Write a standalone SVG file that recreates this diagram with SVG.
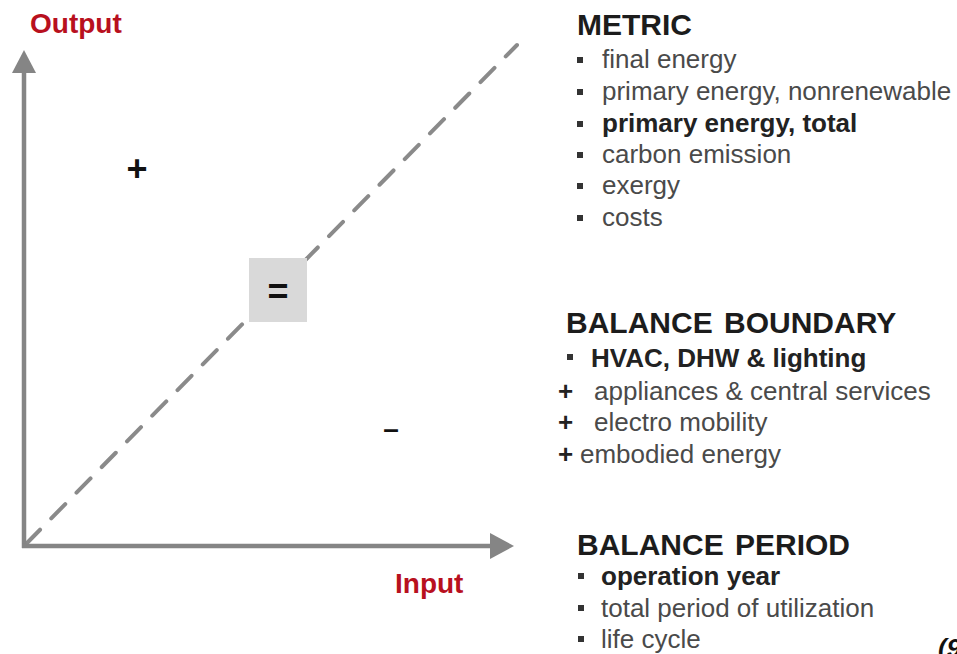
<svg xmlns="http://www.w3.org/2000/svg" width="957" height="654" viewBox="0 0 957 654">
<style>
.ax{stroke:#858585;stroke-width:4.5;fill:none}
.dash{stroke:#8a8a8a;stroke-width:4;stroke-dasharray:20 16;fill:none;stroke-linecap:round}
.red{font-family:"Liberation Sans",Arial,sans-serif;font-weight:bold;font-size:28px;fill:#b8101e}
.hd{font-family:"Liberation Sans",Arial,sans-serif;font-weight:bold;font-size:30px;fill:#1c1c1c;word-spacing:3px}
.it{font-family:"Liberation Sans",Arial,sans-serif;font-size:26px;fill:#4a4a4a}
.itb{font-family:"Liberation Sans",Arial,sans-serif;font-size:26px;font-weight:bold;fill:#222}
.sym{font-family:"Liberation Sans",Arial,sans-serif;font-weight:bold;fill:#111;text-anchor:middle}
.bul{fill:#333}
</style>
<rect width="957" height="654" fill="#ffffff"/>
<g id="connectors">
<line class="dash" x1="26" y1="544" x2="517" y2="45"/>
<line class="ax" x1="24" y1="548" x2="24" y2="70"/>
<polygon points="24,50 12,73 36,73" fill="#858585"/>
<line class="ax" x1="22" y1="546" x2="492" y2="546"/>
<polygon points="514,546 490,533 490,559" fill="#858585"/>
</g>
<g id="axis-labels">
<text class="red" x="30" y="33">Output</text>
<text class="red" x="395" y="593">Input</text>
</g>
<g id="plus"><text class="sym" x="137" y="181" font-size="36">+</text></g>
<g id="minus"><text class="sym" x="391" y="438" font-size="28" font-weight="normal">–</text></g>
<g id="equal">
<rect x="249" y="258" width="58" height="64" fill="#d9d9d9"/>
<text class="sym" x="278" y="304" font-size="36">=</text>
</g>
<g id="metric">
<text class="hd" x="577" y="35" font-size="29">METRIC</text>
<rect class="bul" x="577" y="57" width="6" height="6"/>
<text class="it" x="602" y="68">final energy</text>
<rect class="bul" x="577" y="89" width="6" height="6"/>
<text class="it" x="602" y="100">primary energy, nonrenewable</text>
<rect class="bul" x="577" y="121" width="6" height="6"/>
<text class="itb" x="602" y="132">primary energy, total</text>
<rect class="bul" x="577" y="152" width="6" height="6"/>
<text class="it" x="602" y="163">carbon emission</text>
<rect class="bul" x="577" y="183" width="6" height="6"/>
<text class="it" x="602" y="194">exergy</text>
<rect class="bul" x="577" y="215" width="6" height="6"/>
<text class="it" x="602" y="226">costs</text>
</g>
<g id="balance-boundary">
<text class="hd" x="566" y="333">BALANCE BOUNDARY</text>
<rect class="bul" x="567" y="354" width="6" height="6"/>
<text class="itb" x="591" y="367">HVAC, DHW &amp; lighting</text>
<text class="itb" x="558" y="400" font-size="24">+</text>
<text class="it" x="594" y="400">appliances &amp; central services</text>
<text class="itb" x="558" y="431" font-size="24">+</text>
<text class="it" x="594" y="431">electro mobility</text>
<text class="itb" x="558" y="463" font-size="24">+</text>
<text class="it" x="580" y="463">embodied energy</text>
</g>
<g id="balance-period">
<text class="hd" x="577" y="555">BALANCE PERIOD</text>
<rect class="bul" x="578" y="573" width="6" height="6"/>
<text class="itb" x="601" y="585">operation year</text>
<rect class="bul" x="578" y="605" width="6" height="6"/>
<text class="it" x="601" y="617">total period of utilization</text>
<rect class="bul" x="578" y="636" width="6" height="6"/>
<text class="it" x="601" y="648">life cycle</text>
</g>
<g id="footnote">
<text x="938" y="657" font-family="'Liberation Sans',Arial,sans-serif" font-size="26" font-weight="bold" font-style="italic" fill="#111">(9</text>
</g>
</svg>
